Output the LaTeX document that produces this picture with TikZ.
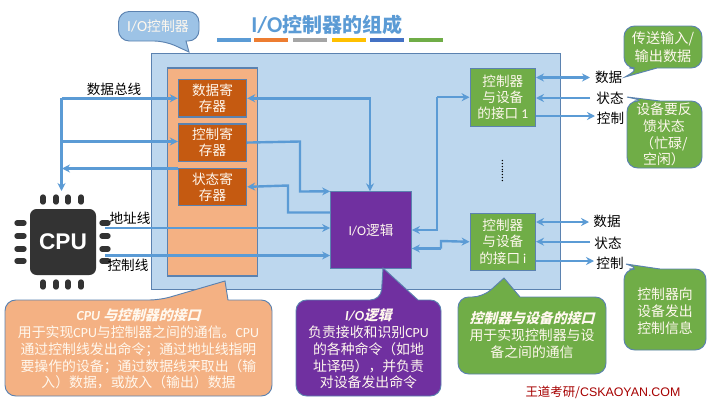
\documentclass[tikz,border=0pt]{standalone}
\usepackage{fontspec}
\setmainfont{Noto Sans CJK SC}
\newfontfamily\latin{Carlito}
\newfontfamily\headfont[FakeSlant=0.25]{Noto Sans CJK SC}
\usepackage{tikz}
\usetikzlibrary{arrows.meta, positioning}
\definecolor{panelblue}{HTML}{BDD7EE}
\definecolor{edgeblue}{HTML}{5B82B0}
\definecolor{wireblue}{HTML}{5B9BD5}
\definecolor{panelorange}{HTML}{F4B183}
\definecolor{regorange}{HTML}{C55A11}
\definecolor{logicpurple}{HTML}{7030A0}
\definecolor{portgreen}{HTML}{70AD47}
\definecolor{chipgray}{HTML}{333333}
\definecolor{softwhite}{HTML}{FFF8EE}
\tikzset{panel/.style={rectangle,draw=edgeblue,fill=panelblue,line width=0.8pt},
         regbox/.style={rectangle,draw=edgeblue,fill=regorange,text=softwhite,line width=1pt,minimum width=51pt,minimum height=28pt,inner sep=0pt,align=center,font=\fontsize{10.2}{12}\selectfont},
         portbox/.style={rectangle,draw=edgeblue,fill=portgreen,text=softwhite,line width=0.8pt,minimum width=49pt,inner sep=0pt,align=center,font=\fontsize{10.2}{12.2}\selectfont},
         wirelabel/.style={inner sep=0pt,text=black,font=\fontsize{10.2}{12}\selectfont},
         balloontext/.style={inner sep=0pt,text=softwhite,align=center,font=\fontsize{10.4}{12.6}\selectfont},
         balloon/.style={draw=edgeblue,line width=0.7pt},
         arrow/.style={-{Stealth[length=6pt,width=6pt]},wireblue,line width=1.8pt},
         twoway/.style={{Stealth[length=6pt,width=6pt]}-{Stealth[length=6pt,width=6pt]},wireblue,line width=1.8pt},
         titlebar/.style={minimum width=25.5pt,minimum height=3.2pt,inner sep=0pt}}
% colour, left, tip edge, right, far edge, tip base from, tip base to, tip
\newcommand{\balloonpath}[8]{\draw[balloon,fill=#1] (#7,#3) [rounded corners=8pt] -- (#4,#3) -- (#4,#5) -- (#2,#5) -- (#2,#3) -- (#6,#3) [sharp corners] -- #8 -- cycle;}
\begin{document}
\begin{tikzpicture}[x=0.75pt,y=-0.75pt]
    \useasboundingbox (0,0) rectangle (708,400);
    % Title and the coloured bars below it
    \node (title) at (327,25) [inner sep=0pt,text=wireblue,font=\fontsize{15}{15}\bfseries\selectfont] {{\latin\fontsize{17}{17}\selectfont I/O}控制器的组成};
    \node (bar1) at (234,40) [titlebar,fill=wireblue] {};
    \node (bar2) [titlebar,fill={rgb,255:red,237;green,125;blue,49},right=2.2pt of bar1] {};
    \node (bar3) [titlebar,fill={rgb,255:red,165;green,165;blue,165},right=3pt of bar2] {};
    \node (bar4) [titlebar,fill={rgb,255:red,255;green,192;blue,0},right=3pt of bar3] {};
    \node (bar5) [titlebar,fill={rgb,255:red,68;green,114;blue,196},right=3pt of bar4] {};
    \node (bar6) [titlebar,fill=portgreen,right=3pt of bar5] {};
    % Controller body
    \node (ctrl) at (356.25,171.5) [panel,minimum width=306.5pt,minimum height=177.5pt] {};
    \node (regs) at (212.5,172) [rectangle,draw=edgeblue,fill=panelorange,line width=0.8pt,minimum width=67.5pt,minimum height=156pt] {};
    \node (datareg) at (212.5,98.3) [regbox] {数据寄\\存器};
    \node (ctrlreg) [regbox,below=4.2pt of datareg] {控制寄\\存器};
    \node (statreg) [regbox,below=4.2pt of ctrlreg] {状态寄\\存器};
    \node (logic) at (371,230.2) [rectangle,draw=edgeblue,fill=logicpurple,text=softwhite,line width=0.8pt,minimum width=60.5pt,minimum height=57.5pt,inner sep=0pt,font=\fontsize{10.2}{12}\selectfont] {{\latin I/O}逻辑};
    \node (port1) at (502.8,97.2) [portbox,minimum height=43.5pt] {控制器\\与设备\\的接口 {\latin 1}};
    \node (porti) at (502.8,241.8) [portbox,minimum height=42.5pt] {控制器\\与设备\\的接口 {\latin i}};
    \node (dots) at (502.5,171) [inner sep=0pt,font=\fontsize{8}{8}\selectfont,rotate=90] {........};
    % CPU chip with its pins
    \node (cpu) at (63,242) [rectangle,rounded corners=5pt,fill=chipgray,text=white,minimum width=49.5pt,minimum height=49.5pt,inner sep=0pt,font=\fontsize{17}{17}\bfseries\selectfont] {\fontspec{Liberation Sans}CPU};
    \foreach \px in {43,56,68,81}{
        \draw[chipgray,line width=4pt,line cap=round] (\px,197) -- (\px,202);
        \draw[chipgray,line width=4pt,line cap=round] (\px,282) -- (\px,287);
    }
    \foreach \py in {223,236,249,261}{
        \draw[chipgray,line width=4pt,line cap=round] (17,\py) -- (24,\py);
        \draw[chipgray,line width=4pt,line cap=round] (102,\py) -- (108,\py);
    }
    % Wire labels
    \node (buslabel) at (114,89) [wirelabel] {数据总线};
    \node (addrlabel) at (130,218) [wirelabel] {地址线};
    \node (cmdlabel) at (128,265.5) [wirelabel] {控制线};
    \node (data1) at (608.7,77) [wirelabel] {数据};
    \node (stat1) at (610,98) [wirelabel] {状态};
    \node (cmd1) at (610.5,118.5) [wirelabel] {控制};
    \node (datai) at (607,221) [wirelabel] {数据};
    \node (stati) at (608,243) [wirelabel] {状态};
    \node (cmdi) at (610,263.5) [wirelabel] {控制};
    % Free ends of the wires
    \coordinate (bustop) at (61.5,98.3);
    \coordinate (busend) at (61.5,191);
    \coordinate (addrstart) at (105,228);
    \coordinate (cmdstart) at (105,255.5);
    \coordinate (bushit) at (61.5,141.5);
    \coordinate (statstop) at (62,168.5);
    \coordinate (dataturn) at (370,98.3);
    % CPU side
    \draw[arrow] (bustop) -- (busend);
    \draw[arrow] (bustop) -- (datareg.west |- bustop);
    \draw[arrow] (bushit) -- (ctrlreg.west |- bushit);
    \draw[arrow] (statreg.west |- statstop) -- (statstop);
    \draw[arrow] (addrstart) -- (logic.west |- addrstart);
    \draw[arrow] (cmdstart) -- (logic.west |- cmdstart);
    % Registers <-> logic
    \draw[twoway] (datareg.east) -- (dataturn) -- (dataturn |- logic.north);
    \draw[arrow] (ctrlreg.east) -- (300,141.5) -- (300,191.5) -- (logic.north west);
    \draw[arrow] (logic.west |- 0,212.5) -- (288,212.5) -- (288,185.5) -- (statreg.east);
    % Logic <-> interfaces
    \draw[arrow] (437,97.2) -- (port1.west);
    \draw[arrow] (437,97.2) -- (437,230) -- (logic.east |- 0,230);
    \draw[arrow] (441,248.5) -- (logic.east |- 0,248.5);
    \draw[arrow] (441,248.5) -- (441,241) -- (porti.west);
    % Interfaces <-> devices
    \draw[twoway] (port1.east |- 0,77.5) -- (590,77.5);
    \draw[arrow] (590,98) -- (port1.east |- 0,98);
    \draw[arrow] (port1.east |- 0,116) -- (595,116);
    \draw[twoway] (porti.east |- 0,222) -- (589,222);
    \draw[arrow] (590,241.7) -- (porti.east |- 0,241.7);
    \draw[arrow] (porti.east |- 0,261) -- (594,261);
    % Balloons
    \balloonpath{wireblue!60}{118.5}{41}{199}{11.5}{165}{186}{(189,52)}
    \node (ctrltag) at (158,26) [balloontext] {{\latin\fontsize{11.5}{12}\selectfont I/O}控制器};
    \balloonpath{panelorange}{5}{300}{272}{396}{160}{228}{(225,281)}
    \node (cpunote) at (138.5,349) [balloontext] {{\headfont\bfseries {\latin\itshape CPU} 与控制器的接口}\\用于实现{\latin CPU}与控制器之间的通信。{\latin CPU}\\通过控制线发出命令；通过地址线指明\\要操作的设备；通过数据线来取出（输\\入）数据，或放入（输出）数据};
    \balloonpath{logicpurple}{296}{300}{441}{396}{381}{418}{(383,268)}
    \node (logicnote) at (368.5,349) [balloontext] {{\headfont\bfseries {\latin\itshape I/O}逻辑}\\负责接收和识别{\latin CPU}\\的各种命令（如地\\址译码），并负责\\对设备发出命令};
    \balloonpath{portgreen}{458}{297}{606}{374}{483}{520}{(504,278)}
    \node (portnote) at (532,335) [balloontext] {{\headfont\bfseries 控制器与设备的接口}\\用于实现控制器与设\\备之间的通信};
    \balloonpath{portgreen}{624}{68}{702}{26}{640}{657}{(625,77)}
    \node (datanote) at (663,47) [balloontext,font=\fontsize{10.6}{13.6}\selectfont] {传送输入/\\输出数据};
    \balloonpath{portgreen}{627}{101}{702}{168}{645}{660}{(627,97)}
    \node (statnote) at (664,134.5) [balloontext] {设备要反\\馈状态\\（忙碌/\\空闲）};
    \balloonpath{portgreen}{624}{269}{706}{350}{640}{660}{(626,264)}
    \node (cmdnote) at (665,311) [balloontext] {控制器向\\设备发出\\控制信息};
    % Footer
    \node (footer) at (603,392.5) [inner sep=0pt,text=red!65!black,font=\fontsize{9.3}{9.3}\selectfont] {王道考研/{\fontspec{Liberation Sans}CSKAOYAN.COM}};
  \end{tikzpicture}
\end{document}
